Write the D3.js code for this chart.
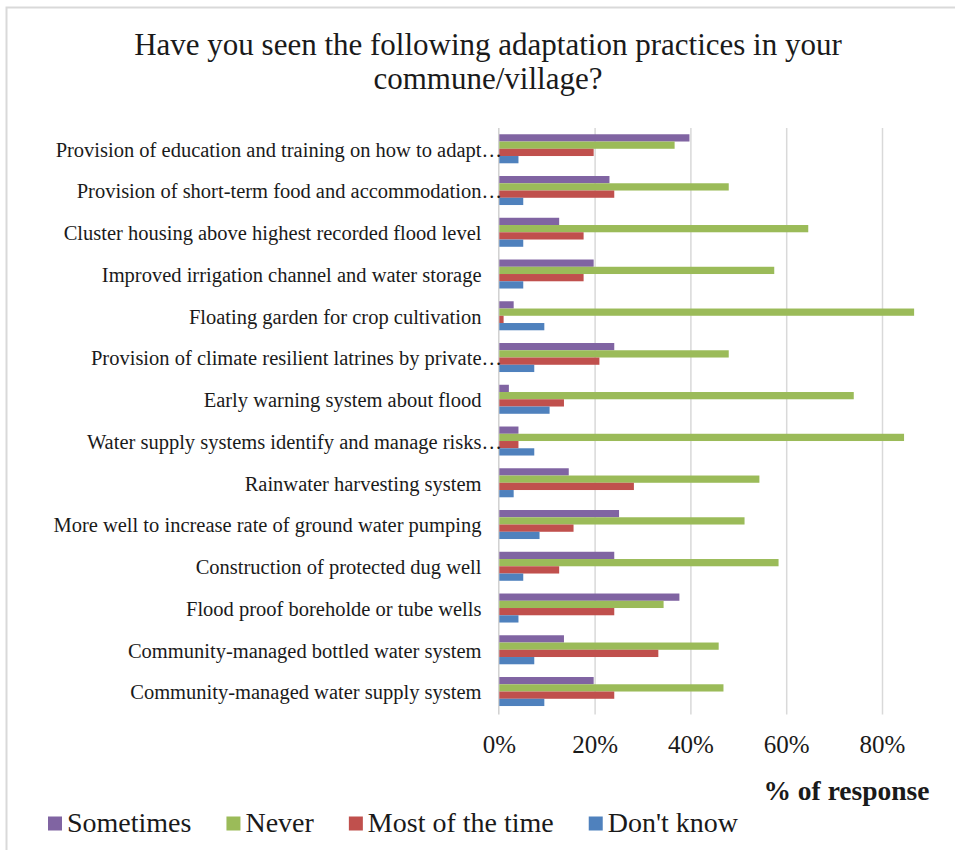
<!DOCTYPE html>
<html>
<head>
<meta charset="utf-8">
<script src="https://cdn.jsdelivr.net/npm/d3@7"></script>
<style>
  html, body { margin: 0; padding: 0; background: #fff; }
  svg { display: block; }
  text { font-family: "Liberation Serif", "Times New Roman", serif; fill: #1a1a1a; }
</style>
</head>
<body>
<svg id="chart" width="955" height="850"></svg>
<script>
const titleLines = ["Have you seen the following adaptation practices in your", "commune/village?"];
const categories = [
  "Provision of education and training on how to adapt…",
  "Provision of short-term food and accommodation…",
  "Cluster housing above highest recorded flood level",
  "Improved irrigation channel and water storage",
  "Floating garden for crop cultivation",
  "Provision of climate resilient latrines by private…",
  "Early warning system about flood",
  "Water supply systems identify and manage risks…",
  "Rainwater harvesting system",
  "More well to increase rate of ground water pumping",
  "Construction of protected dug well",
  "Flood proof boreholde or tube wells",
  "Community-managed bottled water system",
  "Community-managed water supply system"
];
const seriesNames = ["Sometimes", "Never", "Most of the time", "Don't know"];
const sometimes     = [39.7, 23.0, 12.5, 19.7, 3.0, 24.0, 2.0, 4.0, 14.5, 25.0, 24.0, 37.6, 13.5, 19.7];
const never         = [36.6, 47.9, 64.5, 57.4, 86.6, 47.9, 74.0, 84.5, 54.3, 51.2, 58.3, 34.3, 45.8, 46.8];
const mostOfTheTime = [19.7, 24.0, 17.6, 17.6, 0.9, 20.9, 13.5, 4.0, 28.1, 15.5, 12.5, 24.0, 33.2, 24.0];
const dontKnow      = [4.0, 5.0, 5.0, 5.0, 9.4, 7.3, 10.5, 7.3, 3.0, 8.4, 5.0, 4.0, 7.3, 9.4];
const xTicks = [0, 20, 40, 60, 80];
const xAxisTitle = "% of response";
const colors = ["#8064A2", "#9BBB59", "#C0504D", "#4F81BD"];

const seriesValues = [sometimes, never, mostOfTheTime, dontKnow];
const rows = categories.map((c, i) => ({
  category: c,
  values: seriesNames.map((s, k) => ({ series: s, value: seriesValues[k][i] }))
}));

const svg = d3.select("#chart");

// outer chart border (partly cropped at right/bottom)
svg.append("rect")
  .attr("x", 6.5).attr("y", 7.5)
  .attr("width", 1000).attr("height", 900)
  .attr("fill", "none").attr("stroke", "#d9d9d9").attr("stroke-width", 2);

// title
svg.append("g").selectAll("text").data(titleLines).join("text")
  .attr("x", 488).attr("y", (d, i) => 54.5 + i * 34.5)
  .attr("text-anchor", "middle")
  .style("font-size", "31px")
  .text(d => d);

const plotTop = 127.9, plotBottom = 712.4;
const x = d3.scaleLinear().domain([0, 100]).range([499.3, 978.3]);
const y = d3.scaleBand().domain(categories).range([plotTop, plotBottom])
  .paddingInner(0.305).paddingOuter(0.1525);
const ySub = d3.scaleBand().domain(seriesNames).range([0, y.bandwidth()]);
const color = d3.scaleOrdinal().domain(seriesNames).range(colors);

// gridlines
svg.append("g").selectAll("line").data(xTicks.filter(t => t > 0)).join("line")
  .attr("x1", d => x(d)).attr("x2", d => x(d))
  .attr("y1", plotTop).attr("y2", plotBottom + 2)
  .attr("stroke", "#d9d9d9").attr("stroke-width", 1.5);

// category axis line
svg.append("line")
  .attr("x1", x(0) - 0.5).attr("x2", x(0) - 0.5)
  .attr("y1", plotTop).attr("y2", plotBottom + 2)
  .attr("stroke", "#d0d0d0").attr("stroke-width", 1.5);

// bars
const groups = svg.append("g").selectAll("g").data(rows).join("g")
  .attr("transform", d => `translate(0,${y(d.category)})`);
groups.selectAll("rect").data(d => d.values).join("rect")
  .attr("x", x(0))
  .attr("y", d => ySub(d.series))
  .attr("width", d => x(d.value) - x(0))
  .attr("height", ySub.bandwidth())
  .attr("fill", d => color(d.series));

// category labels
const labelRight = 481.5;
const ell = svg.append("text").style("font-size", "20.5px").text("…");
const ellW = ell.node().getComputedTextLength();
ell.remove();
svg.append("g").selectAll("text").data(categories).join("text")
  .attr("x", d => d.endsWith("…") ? labelRight + ellW : labelRight)
  .attr("y", d => y(d) + y.bandwidth() / 2)
  .attr("dy", "0.38em")
  .attr("text-anchor", "end")
  .style("font-size", "20.5px")
  .text(d => d);

// x tick labels
svg.append("g").selectAll("text").data(xTicks).join("text")
  .attr("x", d => x(d)).attr("y", 753)
  .attr("text-anchor", "middle")
  .style("font-size", "25px")
  .text(d => d + "%");

// x axis title
svg.append("text")
  .attr("x", 846.5).attr("y", 800)
  .attr("text-anchor", "middle")
  .style("font-size", "27.5px").style("font-weight", "bold")
  .text(xAxisTitle);

// legend
const legend = svg.append("g");
let lx = 48;
seriesNames.forEach((s, i) => {
  legend.append("rect")
    .attr("x", lx).attr("y", 816.5).attr("width", 14).attr("height", 14)
    .attr("fill", color(s));
  const t = legend.append("text")
    .attr("x", lx + 19).attr("y", 832)
    .style("font-size", "28px")
    .text(s);
  lx += 19 + t.node().getComputedTextLength() + 35;
});
</script>
</body>
</html>
